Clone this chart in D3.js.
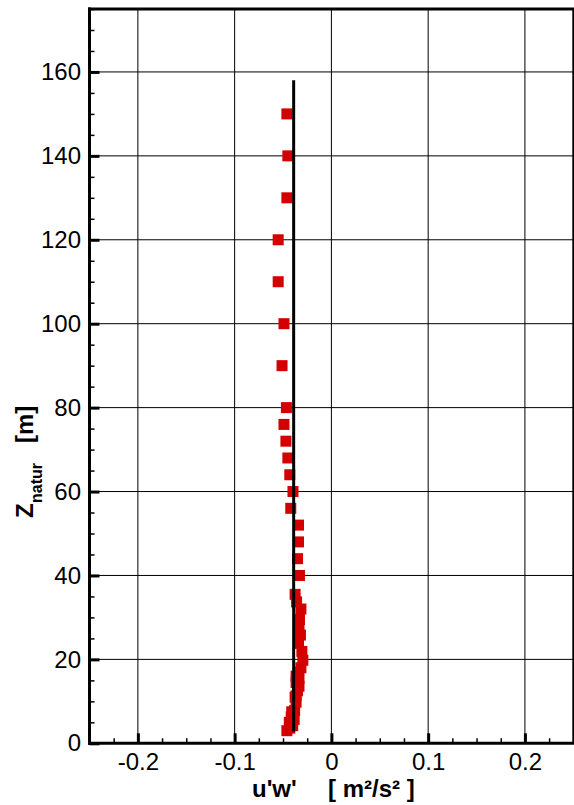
<!DOCTYPE html>
<html>
<head>
<meta charset="utf-8">
<script src="https://cdn.jsdelivr.net/npm/d3@7"></script>
<style>
  html, body { margin: 0; padding: 0; background: #fff; }
  svg { display: block; font-family: "Liberation Sans", Arial, sans-serif; }
</style>
</head>
<body>
<svg id="chart" width="574" height="805"></svg>
<script>
// ---- data ----
const xMajorTicks = [-0.2, -0.1, 0, 0.1, 0.2];
const xTickLabels = ["-0.2", "-0.1", "0", "0.1", "0.2"];
const yMajorTicks = [0, 20, 40, 60, 80, 100, 120, 140, 160];
const yTickLabels = ["0", "20", "40", "60", "80", "100", "120", "140", "160"];

// measured points (red squares): height z [m] and u'w' [m²/s²]
const pointZ = [150, 140, 130, 120, 110, 100, 90, 80, 76, 72, 68, 64, 60, 56, 52, 48, 44, 40,
                35.5, 33.7, 32, 29.5, 27.2, 25.8, 23.8, 21.9, 19.8, 18, 17, 16, 15.5, 14.5,
                13.6, 12.5, 11.3, 11, 9.8, 7.8, 7.5, 6.3, 5.7, 5, 4.2, 3.6, 3];
const pointU = [-0.046, -0.045, -0.046, -0.055, -0.055, -0.049, -0.051, -0.0465, -0.049, -0.047,
                -0.045, -0.043, -0.0397, -0.042, -0.034, -0.034, -0.035, -0.033,
                -0.0375, -0.036, -0.0315, -0.033, -0.0335, -0.032, -0.034, -0.0305, -0.0295,
                -0.0315, -0.034, -0.0365, -0.0335, -0.0365, -0.0335, -0.035, -0.0365, -0.0375,
                -0.0365, -0.038, -0.041, -0.0415, -0.0385, -0.0435, -0.040, -0.043, -0.046];

// simulated profile (black line)
const lineZ = [2.8, 20, 60, 100, 158];
const lineU = [-0.039, -0.039, -0.039, -0.039, -0.039];

// ---- layout ----
const svg = d3.select("#chart");
const L = 89.5, R = 573.3, T = 9, B = 743.3;
const x = d3.scaleLinear().domain([-0.25, 0.25]).range([L, R]);
const y = d3.scaleLinear().domain([0, 175]).range([B, T]);

const xMinor = d3.range(-0.25, 0.2501, 0.025).filter(v => !xMajorTicks.some(t => Math.abs(t - v) < 1e-9));
const yMinor = d3.range(0, 175.01, 5).filter(v => v % 20 !== 0);

// gridlines
const grid = svg.append("g");
grid.selectAll("line.vx").data(xMajorTicks).join("line")
  .attr("x1", d => x(d)).attr("x2", d => x(d)).attr("y1", T).attr("y2", B)
  .attr("stroke", "#000").attr("stroke-width", 1);
grid.selectAll("line.hy").data(yMajorTicks.filter(d => d > 0)).join("line")
  .attr("x1", L).attr("x2", R).attr("y1", d => y(d)).attr("y2", d => y(d))
  .attr("stroke", "#000").attr("stroke-width", 1);

// markers
svg.append("g").selectAll("rect").data(pointZ.map((z, i) => ({z, u: pointU[i]}))).join("rect")
  .attr("x", d => x(d.u) - 5.5).attr("y", d => y(d.z) - 5.5)
  .attr("width", 11).attr("height", 11)
  .attr("fill", "#d40000");

// line
const line = d3.line().x(d => x(d.u)).y(d => y(d.z));
svg.append("path").datum(lineZ.map((z, i) => ({z, u: lineU[i]})))
  .attr("d", line).attr("fill", "none").attr("stroke", "#000").attr("stroke-width", 3);

// frame
svg.append("line").attr("x1", L - 1.5).attr("x2", R + 1).attr("y1", T).attr("y2", T)
  .attr("stroke", "#000").attr("stroke-width", 3);
svg.append("line").attr("x1", R).attr("x2", R).attr("y1", T).attr("y2", B)
  .attr("stroke", "#000").attr("stroke-width", 2);

// axes: x
const xAxis = svg.append("g").attr("transform", `translate(0,${B})`)
  .call(d3.axisBottom(x).tickValues(xMajorTicks).tickFormat((d, i) => xTickLabels[i])
        .tickSize(-10).tickPadding(10));
xAxis.select(".domain").remove();
xAxis.selectAll(".tick line").attr("stroke-width", 3);
xAxis.selectAll(".tick text").attr("font-size", 24).attr("fill", "#000")
  .attr("font-family", "'Liberation Sans', Arial, sans-serif");
const xAxisMinor = svg.append("g").attr("transform", `translate(0,${B})`)
  .call(d3.axisBottom(x).tickValues(xMinor).tickFormat("").tickSize(-5));
xAxisMinor.select(".domain").remove();
xAxisMinor.selectAll(".tick line").attr("stroke-width", 1.5);

// axes: y
const yAxis = svg.append("g").attr("transform", `translate(${L},0)`)
  .call(d3.axisLeft(y).tickValues(yMajorTicks).tickFormat((d, i) => yTickLabels[i])
        .tickSize(-10).tickPadding(8.5));
yAxis.select(".domain").remove();
yAxis.selectAll(".tick line").attr("stroke-width", 3);
yAxis.selectAll(".tick text").attr("font-size", 24).attr("fill", "#000")
  .attr("font-family", "'Liberation Sans', Arial, sans-serif");
const yAxisMinor = svg.append("g").attr("transform", `translate(${L},0)`)
  .call(d3.axisLeft(y).tickValues(yMinor).tickFormat("").tickSize(-5));
yAxisMinor.select(".domain").remove();
yAxisMinor.selectAll(".tick line").attr("stroke-width", 1.5);

// axis lines
svg.append("line").attr("x1", L).attr("x2", L).attr("y1", T - 1.5).attr("y2", B + 1.5)
  .attr("stroke", "#000").attr("stroke-width", 3);
svg.append("line").attr("x1", L - 1.5).attr("x2", R + 1).attr("y1", B).attr("y2", B)
  .attr("stroke", "#000").attr("stroke-width", 3);

// x title
svg.append("text").attr("x", 252).attr("y", 797).attr("font-size", 24).attr("font-weight", "bold")
  .text("u'w'");
svg.append("text").attr("x", 328).attr("y", 797).attr("font-size", 24).attr("font-weight", "bold")
  .attr("xml:space", "preserve").style("white-space", "pre")
  .text("[ m²/s² ]");

// y title
const yt = svg.append("text").attr("transform", "translate(33,518) rotate(-90)")
  .attr("font-size", 24).attr("font-weight", "bold");
yt.append("tspan").attr("x", 0).attr("y", 0).text("Z");
yt.append("tspan").attr("x", 15).attr("y", 9).attr("font-size", 16).text("natur");
yt.append("tspan").attr("x", 75).attr("y", 0).text("[m]");
</script>
</body>
</html>
